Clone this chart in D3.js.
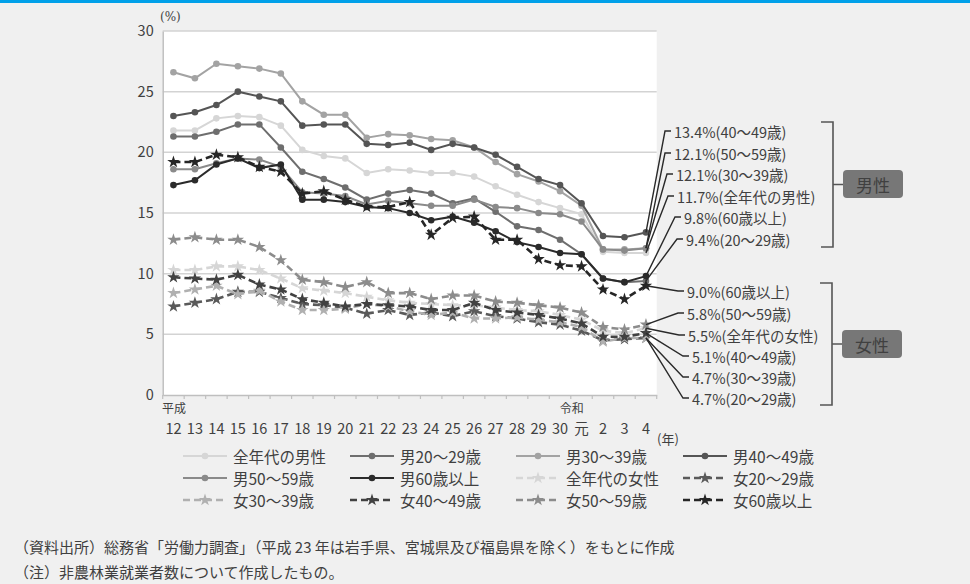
<!DOCTYPE html>
<html>
<head>
<meta charset="utf-8">
<script src="https://cdn.jsdelivr.net/npm/d3@7"></script>
<style>
  body { margin: 0; background: #f0f0f0; }
  text { font-family: "Noto Sans CJK JP", "Noto Sans", sans-serif; fill: #404040; }
</style>
</head>
<body>
<svg width="970" height="584"></svg>
<script>
// Year categories (平成12 ... 令和4)
const years = ["12","13","14","15","16","17","18","19","20","21","22","23","24","25","26","27","28","29","30","元","2","3","4"];
const yTicks = [0, 5, 10, 15, 20, 25, 30];

// Series values (%)
const maleAll = [21.8,21.8,22.8,23.0,22.9,22.2,20.2,19.7,19.5,18.3,18.6,18.5,18.3,18.3,18.0,17.2,16.5,15.9,15.4,14.9,11.8,11.7,11.7];
const male20  = [21.3,21.3,21.7,22.3,22.3,20.4,18.4,17.8,17.1,16.1,16.6,16.9,16.6,15.8,16.2,15.1,13.9,13.6,12.8,11.6,9.6,9.3,9.4];
const male30  = [26.6,26.1,27.3,27.1,26.9,26.5,24.2,23.1,23.1,21.2,21.5,21.4,21.1,21.0,20.4,19.2,18.2,17.6,16.8,15.6,12.0,12.0,12.1];
const male40  = [23.0,23.3,23.9,25.0,24.6,24.2,22.2,22.3,22.3,20.7,20.6,20.8,20.2,20.7,20.4,19.8,18.8,17.8,17.3,15.8,13.1,13.0,13.4];
const male50  = [18.6,18.6,19.1,19.5,19.4,18.8,16.7,16.6,16.4,15.7,16.0,15.8,15.6,15.6,16.1,15.5,15.4,15.0,14.9,14.3,12.0,11.9,12.1];
const male60  = [17.3,17.7,19.0,19.5,18.7,19.0,16.1,16.1,15.9,15.5,15.4,15.0,14.4,14.7,14.2,13.5,12.6,12.2,11.7,11.6,9.6,9.3,9.8];
const femaleAll = [10.3,10.3,10.6,10.6,10.3,9.6,8.8,8.6,8.4,8.1,7.8,7.6,7.5,7.4,7.4,7.2,7.0,6.9,6.6,6.2,5.3,5.1,5.5];
const female20  = [7.3,7.6,7.9,8.5,8.5,8.0,7.5,7.4,7.2,6.7,7.0,6.6,6.8,6.5,6.9,6.5,6.3,6.0,5.8,5.3,4.5,4.6,4.7];
const female30  = [8.4,8.7,9.0,8.3,8.6,7.7,7.0,7.0,7.1,7.5,7.3,6.9,6.6,6.8,6.3,6.3,6.4,6.2,6.0,5.6,4.4,4.7,4.7];
const female40  = [9.7,9.6,9.5,9.9,9.1,8.7,7.9,7.6,7.3,7.5,7.4,7.3,7.0,7.0,7.6,7.0,6.8,6.6,6.3,5.9,4.8,4.8,5.1];
const female50  = [12.8,13.0,12.8,12.8,12.2,11.1,9.5,9.3,8.9,9.3,8.4,8.4,7.9,8.2,8.2,7.7,7.6,7.4,7.2,6.8,5.6,5.4,5.8];
const female60  = [19.2,19.2,19.8,19.6,18.8,18.4,16.6,16.8,16.1,15.5,15.5,15.9,13.2,14.6,14.7,12.8,12.8,11.2,10.7,10.6,8.7,7.9,9.0];

// Series table (legend order)
const series = [
  { name: "全年代の男性", tag: "全年代の男性", values: maleAll,   color: "#d6d6d6", female: false },
  { name: "男20〜29歳",   tag: "20〜29歳",     values: male20,    color: "#6e6e6e", female: false },
  { name: "男30〜39歳",   tag: "30〜39歳",     values: male30,    color: "#a3a3a3", female: false },
  { name: "男40〜49歳",   tag: "40〜49歳",     values: male40,    color: "#555555", female: false },
  { name: "男50〜59歳",   tag: "50〜59歳",     values: male50,    color: "#8a8a8a", female: false },
  { name: "男60歳以上",   tag: "60歳以上",     values: male60,    color: "#2b2b2b", female: false },
  { name: "全年代の女性", tag: "全年代の女性", values: femaleAll, color: "#d6d6d6", female: true },
  { name: "女20〜29歳",   tag: "20〜29歳",     values: female20,  color: "#5a5a5a", female: true },
  { name: "女30〜39歳",   tag: "30〜39歳",     values: female30,  color: "#b0b0b0", female: true },
  { name: "女40〜49歳",   tag: "40〜49歳",     values: female40,  color: "#414141", female: true },
  { name: "女50〜59歳",   tag: "50〜59歳",     values: female50,  color: "#8c8c8c", female: true },
  { name: "女60歳以上",   tag: "60歳以上",     values: female60,  color: "#262626", female: true }
];

// Order of the end-of-line labels on the right
const maleLabelOrder = ["男40〜49歳","男50〜59歳","男30〜39歳","全年代の男性","男60歳以上","男20〜29歳"];
const femaleLabelOrder = ["女60歳以上","女50〜59歳","全年代の女性","女40〜49歳","女30〜39歳","女20〜29歳"];

const svg = d3.select("svg");

// Background and top rule
svg.append("rect").attr("width", 970).attr("height", 584).attr("fill", "#f0f0f0");
svg.append("rect").attr("width", 970).attr("height", 3).attr("fill", "#00a0e9");

// Scales
const x = d3.scaleBand().domain(years).range([162.7, 656.7]);
const bw = x.bandwidth();
const cx = i => x(years[i]) + bw / 2;
const y = d3.scaleLinear().domain([0, 30]).range([395, 31]);

// Plot area
svg.append("rect")
   .attr("x", x.range()[0]).attr("y", y(30))
   .attr("width", x.range()[1] - x.range()[0]).attr("height", y(0) - y(30))
   .attr("fill", "#ffffff");

// Gridlines
svg.append("g").selectAll("line")
   .data(yTicks.filter(t => t > 0))
   .join("line")
   .attr("x1", x.range()[0]).attr("x2", x.range()[1])
   .attr("y1", d => y(d)).attr("y2", d => y(d))
   .attr("stroke", "#d3d3d3").attr("stroke-width", 1.5);

// Y axis labels
const yAxis = svg.append("g")
   .attr("transform", `translate(${x.range()[0]},0)`)
   .call(d3.axisLeft(y).tickValues(yTicks).tickSize(0).tickPadding(9));
yAxis.select(".domain").attr("stroke", "#bfbfbf").attr("stroke-width", 1.5);
yAxis.selectAll("text").style("font-size", "14.5px").attr("fill", "#404040");

// X axis labels (band centres) and tick marks at band edges
const xAxis = svg.append("g")
   .attr("transform", `translate(0,${y(0)})`)
   .call(d3.axisBottom(x).tickSize(0).tickPadding(29));
xAxis.select(".domain").attr("stroke", "#bfbfbf").attr("stroke-width", 1.5);
xAxis.selectAll("text").style("font-size", "14.5px").attr("fill", "#404040");
xAxis.append("g").selectAll("line")
   .data(d3.range(years.length + 1))
   .join("line")
   .attr("x1", i => i < years.length ? x(years[i]) : x.range()[1])
   .attr("x2", i => i < years.length ? x(years[i]) : x.range()[1])
   .attr("y1", 0).attr("y2", 4)
   .attr("stroke", "#bfbfbf").attr("stroke-width", 1.2);

svg.append("text").attr("x", 162).attr("y", 407).attr("dominant-baseline", "central")
   .style("font-size", "12px").text("平成");
svg.append("text").attr("x", (cx(18) + cx(19)) / 2 + 1).attr("y", 407).attr("dominant-baseline", "central")
   .attr("text-anchor", "middle").style("font-size", "12px").text("令和");
svg.append("text").attr("x", 657).attr("y", 438).attr("dominant-baseline", "central")
   .style("font-size", "13px").text("(年)");
svg.append("text").attr("x", 160).attr("y", 17).attr("dominant-baseline", "central")
   .style("font-size", "12px").style("font-family", "'DejaVu Serif', serif").text("(%)");

// Lines and markers
const line = d3.line().x((d, i) => cx(i)).y(d => y(d));
const star = d3.symbol().type(d3.symbolStar).size(48);

const gLines = svg.append("g");
series.forEach(s => {
  const g = gLines.append("g");
  g.append("path")
   .datum(s.values)
   .attr("d", line)
   .attr("fill", "none")
   .attr("stroke", s.color)
   .attr("stroke-width", s.female ? 2.6 : 2)
   .attr("stroke-dasharray", s.female ? "7,4" : null);
  if (s.female) {
    g.selectAll("path.m").data(s.values).join("path").attr("class", "m")
     .attr("d", star)
     .attr("transform", (d, i) => `translate(${cx(i)},${y(d)})`)
     .attr("fill", s.color);
  } else {
    g.selectAll("circle").data(s.values).join("circle")
     .attr("cx", (d, i) => cx(i)).attr("cy", d => y(d)).attr("r", 3.3)
     .attr("fill", s.color);
  }
});

// End labels with leader lines
const last = years.length - 1;
function endLabels(order, textY, elbowX) {
  const g = svg.append("g");
  order.forEach((name, k) => {
    const s = series.find(d => d.name === name);
    const v = s.values[last];
    const ty = textY[k], ex = elbowX[k];
    g.append("path")
     .attr("d", `M${cx(last)},${y(v)} L${ex},${ty} L${ex + 6},${ty}`)
     .attr("fill", "none").attr("stroke", "#2a2a2a").attr("stroke-width", 1.4);
    g.append("text")
     .attr("x", ex + 9).attr("y", ty).attr("dominant-baseline", "central")
     .style("font-size", "14.5px")
     .text(`${v.toFixed(1)}%(${s.tag})`);
  });
}
endLabels(maleLabelOrder, [131, 153, 174, 196, 217, 239], [665, 665, 667, 668, 675, 677]);
endLabels(femaleLabelOrder, [291, 313, 335, 356, 377, 398], [678, 678, 679, 683, 683, 683]);

// Brackets and group boxes
function bracket(top, bottom, xb, label, boxY) {
  const mid = (top + bottom) / 2;
  svg.append("path")
     .attr("d", `M${xb - 12},${top} L${xb},${top} L${xb},${bottom} L${xb - 12},${bottom} M${xb},${mid} L${xb + 10},${mid}`)
     .attr("fill", "none").attr("stroke", "#555555").attr("stroke-width", 1.6);
  svg.append("rect").attr("x", xb + 10).attr("y", boxY).attr("width", 60).attr("height", 28).attr("rx", 4)
     .attr("fill", "#777777");
  svg.append("text").attr("x", xb + 40).attr("y", boxY + 14).attr("text-anchor", "middle")
     .attr("dominant-baseline", "central").style("font-size", "17px").attr("fill", "#2a2a2a").text(label);
}
bracket(122, 247, 833, "男性", 170);
bracket(283, 405, 832, "女性", 330);

// Legend
const legX = [183, 350, 516, 683], legY = [456, 478, 500];
const leg = svg.append("g");
series.forEach((s, i) => {
  const lx = legX[i % 4], ly = legY[Math.floor(i / 4)];
  leg.append("line").attr("x1", lx).attr("x2", lx + 44).attr("y1", ly).attr("y2", ly)
     .attr("stroke", s.color).attr("stroke-width", s.female ? 2.6 : 2)
     .attr("stroke-dasharray", s.female ? "7,4" : null);
  if (s.female) {
    leg.append("path").attr("d", star).attr("transform", `translate(${lx + 22},${ly})`).attr("fill", s.color);
  } else {
    leg.append("circle").attr("cx", lx + 22).attr("cy", ly).attr("r", 3.3).attr("fill", s.color);
  }
  leg.append("text").attr("x", lx + 50).attr("y", ly).attr("dominant-baseline", "central")
     .style("font-size", "15.5px").text(s.name);
});

// Notes
svg.append("text").attr("x", 14).attr("y", 546).attr("dominant-baseline", "central").style("font-size", "15px")
   .text("（資料出所）総務省「労働力調査」（平成 23 年は岩手県、宮城県及び福島県を除く）をもとに作成");
svg.append("text").attr("x", 14).attr("y", 571).attr("dominant-baseline", "central").style("font-size", "15px")
   .text("（注）非農林業就業者数について作成したもの。");
</script>
</body>
</html>
